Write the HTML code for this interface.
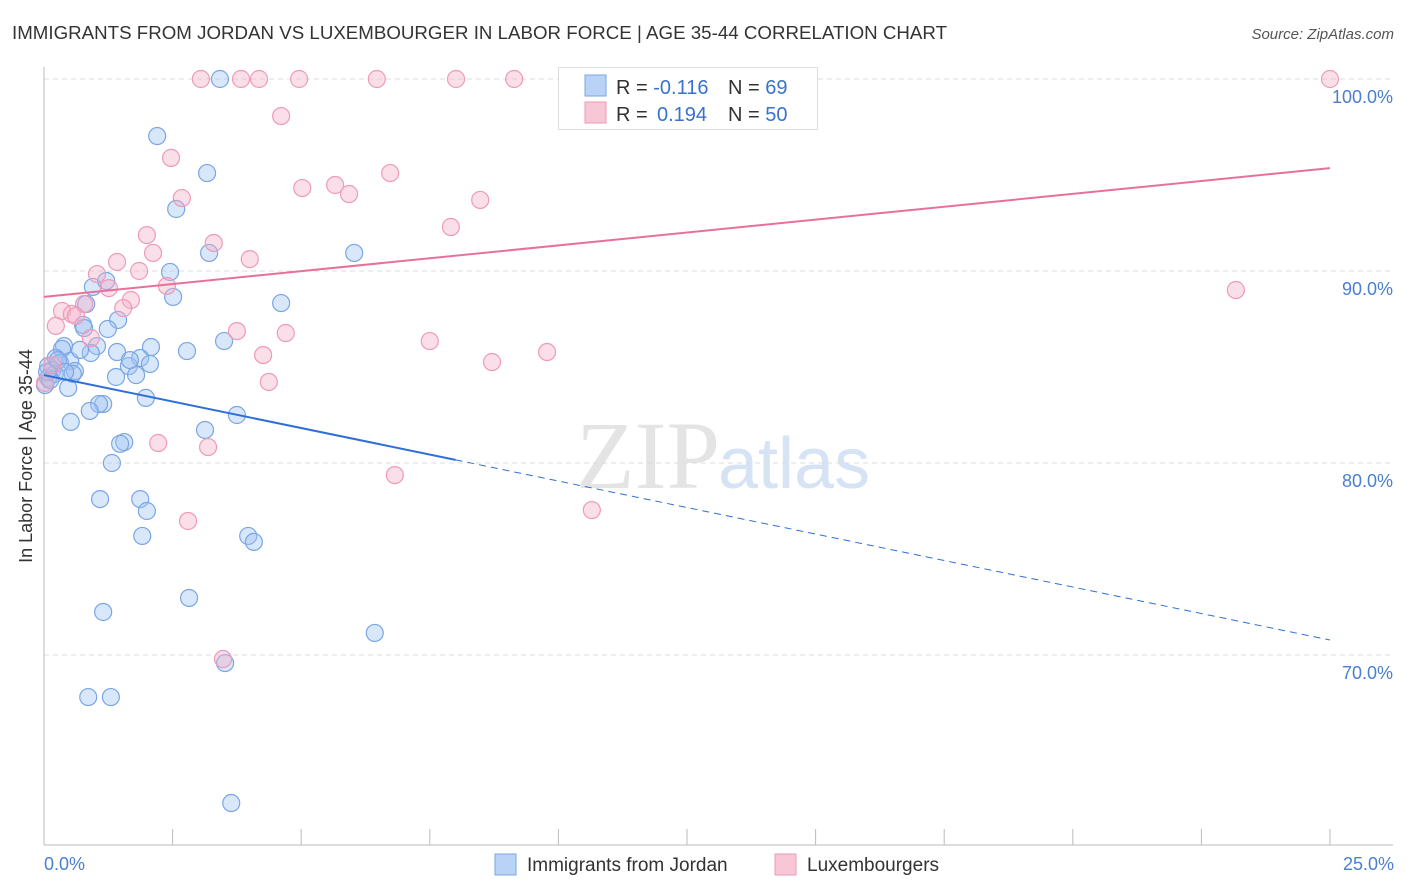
<!DOCTYPE html>
<html><head><meta charset="utf-8"><style>
body{margin:0;background:#fff;font-family:"Liberation Sans",sans-serif}
svg{display:block}
</style></head><body>
<svg id="chart" width="1406" height="892" xmlns="http://www.w3.org/2000/svg">
<text x="12" y="39" font-size="18.7" fill="#333" textLength="935" lengthAdjust="spacing">IMMIGRANTS FROM JORDAN VS LUXEMBOURGER IN LABOR FORCE | AGE 35-44 CORRELATION CHART</text>
<text x="1394" y="39" font-size="15" fill="#555" font-style="italic" text-anchor="end">Source: ZipAtlas.com</text>
<text x="720" y="488" font-size="96" fill="#e4e4e4" text-anchor="end" font-family="Liberation Serif,serif">ZIP</text>
<text x="718" y="488" font-size="72" fill="#d5e3f5">atlas</text>
<g id="grid"></g><g id="axes"></g><g id="pts"></g><g id="lines"></g>
<text x="32" y="456" font-size="18" fill="#333" text-anchor="middle" transform="rotate(-90 32 456)">In Labor Force | Age 35-44</text>
<text x="44" y="870" font-size="18" fill="#4a7fd0">0.0%</text>
<text x="1394" y="870" font-size="18" fill="#4a7fd0" text-anchor="end">25.0%</text>
<g>
<rect x="558.5" y="67.5" width="259" height="62" fill="#fff" stroke="#ddd"/>
<rect x="585" y="75" width="21" height="21" fill="#b9d3f7" stroke="#7aa6e4"/>
<rect x="585" y="102" width="21" height="21" fill="#f8c7d6" stroke="#ee9ab8"/>
<text font-size="20" fill="#333"><tspan x="616" y="94">R = </tspan><tspan fill="#3a72cc">-0.116</tspan><tspan x="728">N = </tspan><tspan fill="#3a72cc">69</tspan></text>
<text font-size="20" fill="#333"><tspan x="616" y="121">R = </tspan><tspan x="657" fill="#3a72cc">0.194</tspan><tspan x="728">N = </tspan><tspan fill="#3a72cc">50</tspan></text>
</g>
<g>
<rect x="495" y="854" width="21" height="21" fill="#b9d3f7" stroke="#7aa6e4"/>
<text x="527" y="871" font-size="19" fill="#333">Immigrants from Jordan</text>
<rect x="775" y="854" width="21" height="21" fill="#f8c7d6" stroke="#ee9ab8"/>
<text x="807" y="871" font-size="19" fill="#333">Luxembourgers</text>
</g>
</svg>
<script>
const blueX=[3.42,2.20,3.17,2.57,3.21,6.03,2.45,0.95,1.21,2.51,4.61,0.82,1.44,0.76,0.78,1.24,3.50,2.08,2.78,0.39,0.35,1.03,1.42,0.91,1.87,0.23,0.51,0.31,0.08,2.06,1.65,0.16,0.60,0.56,0.21,0.08,1.40,1.79,0.47,1.98,1.15,1.07,0.89,3.75,0.52,3.13,1.56,1.48,1.32,1.09,1.87,2.00,3.97,4.08,1.91,2.82,1.15,6.43,3.52,0.86,1.30,3.64,0.02,0.12,0.06,0.27,0.41,0.70,1.67];
const blueY=[100,97.03,95.10,93.23,90.94,90.94,89.95,89.17,89.48,88.65,88.33,88.28,87.45,87.19,87.03,86.98,86.35,86.04,85.83,86.09,85.94,86.09,85.78,85.73,85.47,85.47,85.31,85.21,85.05,85.16,85.05,84.84,84.79,84.64,84.64,84.43,84.48,84.58,83.91,83.39,83.07,83.07,82.71,82.5,82.14,81.72,81.09,81.0,80.0,78.12,78.12,77.5,76.2,75.89,76.2,72.97,72.24,71.15,69.58,67.81,67.81,62.29,84.06,84.32,84.74,85.36,84.74,85.89,85.36];
const pinkX=[3.05,3.83,4.18,4.96,6.47,8.01,9.14,25.0,4.61,2.47,6.73,5.02,5.66,5.93,2.68,8.48,7.91,2.00,3.30,2.12,4.00,1.42,1.85,1.03,2.39,1.26,0.78,1.69,1.54,0.35,0.54,0.62,0.23,0.91,3.75,4.70,7.50,9.78,4.26,8.71,4.37,2.22,3.19,6.82,10.65,2.80,3.48,23.17,0.02,0.16];
const pinkY=[100,100,100,100,100,100,100,100,98.07,95.89,95.10,94.32,94.48,94.01,93.80,93.70,92.29,91.87,91.46,90.94,90.62,90.47,90.0,89.84,89.22,89.11,88.28,88.49,88.07,87.92,87.76,87.66,87.14,86.51,86.87,86.77,86.35,85.78,85.62,85.26,84.22,81.04,80.83,79.37,77.55,76.98,69.79,89.01,84.17,85.10];
const yTicks=[100,90,80,70];
const yTickLabels=["100.0%","90.0%","80.0%","70.0%"];
const xTicks=[0,2.5,5,7.5,10,12.5,15,17.5,20,22.5,25];
const blueTrend=[84.58,70.78];
const blueSolidEnd=8.0;
const pinkTrend=[88.65,95.36];
const NS='http://www.w3.org/2000/svg';
const sx=v=>44+v*51.44, sy=v=>79+(100-v)*19.2;
function mk(tag,attrs,parent){const e=document.createElementNS(NS,tag);for(const k in attrs)e.setAttribute(k,attrs[k]);document.getElementById(parent).appendChild(e);return e;}
yTicks.forEach((t,i)=>{
 const l=mk('line',{x1:44,x2:1393,y1:sy(t),y2:sy(t),stroke:'#ddd','stroke-dasharray':'5,4'},'grid');
 
 
 const tx=mk('text',{x:1393,y:sy(t)+24,'font-size':18,fill:'#4a7fd0','text-anchor':'end'},'grid');
 tx.textContent=yTickLabels[i];
 
 
});
let a=mk('line',{x1:44,x2:44,y1:67,y2:845,stroke:'#bbb'},'axes');


a=mk('line',{x1:44,x2:1393,y1:845,y2:845,stroke:'#bbb'},'axes');


xTicks.forEach(t=>{const k=mk('line',{x1:sx(t),x2:sx(t),y1:829,y2:845,stroke:'#bbb'},'axes');
 
 });
function pts(X,Y,fill,stroke,name){X.forEach((x,i)=>{const c=mk('circle',{cx:sx(x),cy:sy(Y[i]),r:8.5,fill:fill,stroke:stroke,'stroke-width':1.2},'pts');
 
 });}
pts(blueX,blueY,'rgba(160,195,242,0.4)','#7aa6e4','jordan-point');
pts(pinkX,pinkY,'rgba(246,175,198,0.4)','#ee9ab8','luxembourger-point');
const by=x=>blueTrend[0]+(blueTrend[1]-blueTrend[0])*x/25;
let ln=mk('line',{x1:sx(0),y1:sy(by(0)),x2:sx(blueSolidEnd),y2:sy(by(blueSolidEnd)),stroke:'#2f6fd8','stroke-width':2},'lines');


ln=mk('line',{x1:sx(blueSolidEnd),y1:sy(by(blueSolidEnd)),x2:sx(25),y2:sy(by(25)),stroke:'#2f6fd8','stroke-width':1,'stroke-dasharray':'7,5'},'lines');


ln=mk('line',{x1:sx(0),y1:sy(pinkTrend[0]),x2:sx(25),y2:sy(pinkTrend[1]),stroke:'#e8709a','stroke-width':2},'lines');


</script>
</body></html>
